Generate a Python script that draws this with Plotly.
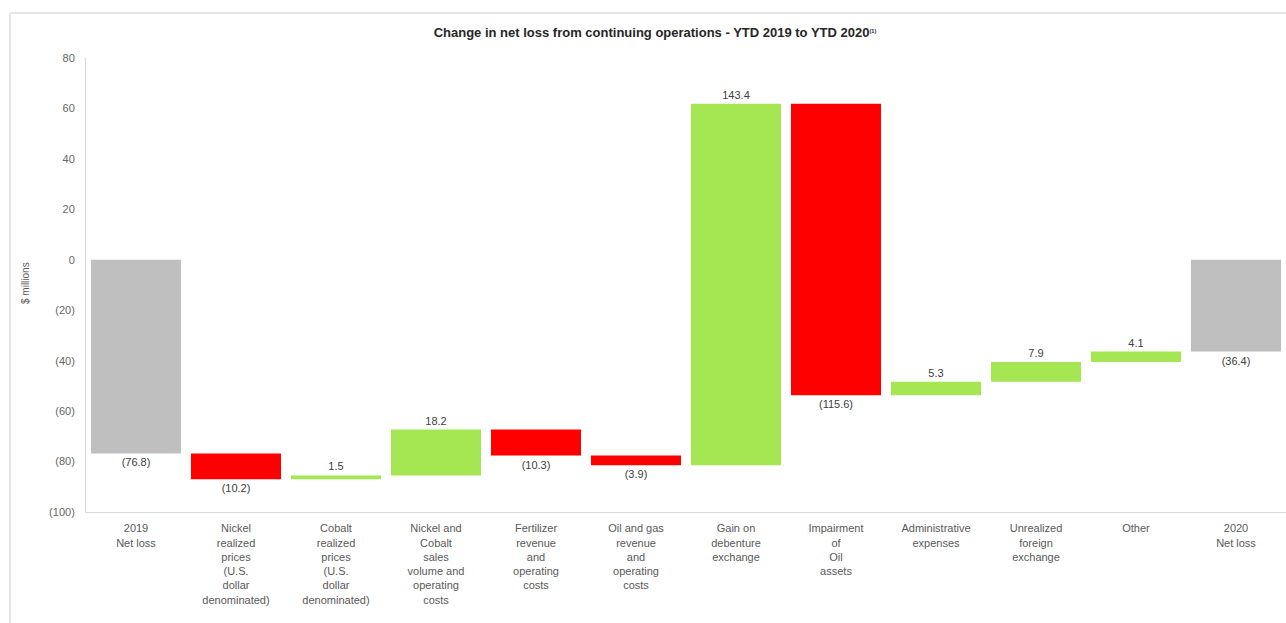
import plotly.graph_objects as go

# Waterfall steps: opening total, changes, closing total ($ millions)
categories = [
    "2019<br>Net loss",
    "Nickel<br>realized<br>prices<br>(U.S.<br>dollar<br>denominated)",
    "Cobalt<br>realized<br>prices<br>(U.S.<br>dollar<br>denominated)",
    "Nickel and<br>Cobalt<br>sales<br>volume and<br>operating<br>costs",
    "Fertilizer<br>revenue<br>and<br>operating<br>costs",
    "Oil and gas<br>revenue<br>and<br>operating<br>costs",
    "Gain on<br>debenture<br>exchange",
    "Impairment<br>of<br>Oil<br>assets",
    "Administrative<br>expenses",
    "Unrealized<br>foreign<br>exchange",
    "Other",
    "2020<br>Net loss",
]
values = [-76.8, -10.2, 1.5, 18.2, -10.3, -3.9, 143.4, -115.6, 5.3, 7.9, 4.1, -36.4]
kinds = ["total"] + ["change"] * 10 + ["total"]

y_tickvals = [80, 60, 40, 20, 0, -20, -40, -60, -80, -100]
y_ticktext = ["80", "60", "40", "20", "0", "(20)", "(40)", "(60)", "(80)", "(100)"]

GREY = "#BFBFBF"
RED = "#FF0000"
GREEN = "#A5E653"

bases, colors, labels = [], [], []
running = 0.0
for v, k in zip(values, kinds):
    if k == "total":
        bases.append(0.0)
        colors.append(GREY)
        running = v
    else:
        bases.append(running)
        colors.append(GREEN if v >= 0 else RED)
        running += v
    labels.append(f"({abs(v):.1f})" if v < 0 else f"{v:.1f}")

fig = go.Figure(
    go.Bar(
        x=list(range(len(values))),
        y=values,
        base=bases,
        marker=dict(color=colors, line=dict(width=0)),
        text=labels,
        textposition="outside",
        textfont=dict(family="Liberation Sans, Arial, sans-serif", size=11, color="#404040"),
        cliponaxis=False,
        hoverinfo="skip",
    )
)


def px_x(px):
    # pixel column -> paper x (plot area spans 86..1286)
    return (px - 86) / 1200


def px_y(py):
    # pixel row -> paper y (plot area spans 58..512)
    return (512 - py) / 454


FRAME_COLOR = "#E6E6E6"

annotations = [
    dict(
        text="$ millions",
        textangle=-90,
        xref="paper",
        yref="paper",
        x=px_x(25),
        y=px_y(283),
        xanchor="center",
        yanchor="middle",
        showarrow=False,
        font=dict(size=10, color="#595959"),
    ),
    # top edge of the outer panel
    dict(
        text=" ", xref="paper", yref="paper",
        x=px_x(10), y=px_y(13), xanchor="left", yanchor="middle",
        width=1276, height=2, borderpad=0, borderwidth=0,
        bgcolor=FRAME_COLOR, showarrow=False, font=dict(size=1),
    ),
    # left edge of the outer panel
    dict(
        text=" ", xref="paper", yref="paper",
        x=px_x(10), y=px_y(13), xanchor="center", yanchor="top",
        width=2, height=610, borderpad=0, borderwidth=0,
        bgcolor=FRAME_COLOR, showarrow=False, font=dict(size=1),
    ),
]

fig.update_layout(
    width=1286,
    height=623,
    margin=dict(l=86, r=0, t=58, b=111),
    paper_bgcolor="white",
    plot_bgcolor="white",
    bargap=0.1,
    showlegend=False,
    font=dict(family="Liberation Sans, Arial, sans-serif", size=11, color="#595959"),
    title=dict(
        text="<b>Change in net loss from continuing operations - YTD 2019 to YTD 2020"
        "<span style='font-size:8px'><sup>(1)</sup></span></b>",
        x=655 / 1286,
        xanchor="center",
        y=1 - 32 / 623,
        yanchor="middle",
        font=dict(family="Liberation Sans, Arial, sans-serif", size=13, color="#262626"),
    ),
    xaxis=dict(
        tickmode="array",
        tickvals=list(range(len(values))),
        ticktext=categories,
        range=[-0.5, len(values) - 0.5],
        showgrid=False,
        zeroline=False,
        showline=True,
        linecolor="#D9D9D9",
        linewidth=1,
        ticks="",
        ticklabelstandoff=6,
        tickfont=dict(size=11, color="#595959"),
    ),
    yaxis=dict(
        range=[-100, 80],
        tickmode="array",
        tickvals=y_tickvals,
        ticktext=y_ticktext,
        showgrid=False,
        zeroline=False,
        showline=True,
        linecolor="#D9D9D9",
        linewidth=1,
        ticks="",
        ticklabelstandoff=8,
        tickfont=dict(size=11, color="#666666"),
    ),
    annotations=annotations,
)

fig.write_html("out.html")
